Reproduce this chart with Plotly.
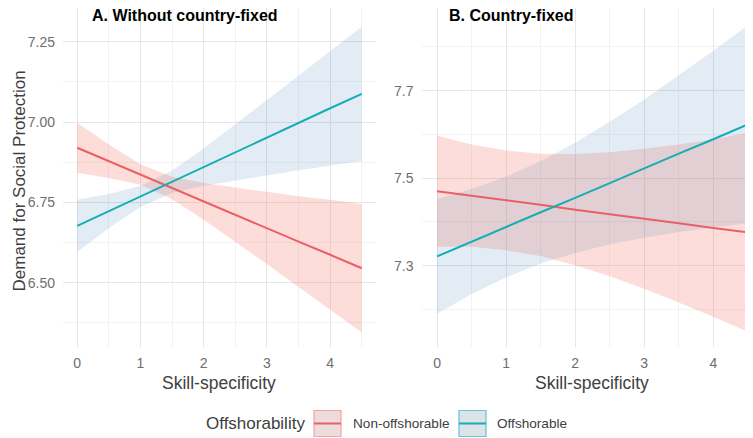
import plotly.graph_objects as go

# ---------------- data ----------------
skill = [0, 0.5, 1, 1.5, 2, 2.5, 3, 3.5, 4, 4.5]
groups = ["Non-offshorable", "Offshorable"]

# Panel A: without country-fixed
a_non_fit = [6.920, 6.878, 6.837, 6.795, 6.753, 6.712, 6.670, 6.628, 6.587, 6.545]
a_non_lo = [6.842, 6.826, 6.805, 6.760, 6.696, 6.628, 6.558, 6.487, 6.416, 6.345]
a_non_hi = [6.998, 6.930, 6.869, 6.830, 6.810, 6.796, 6.782, 6.769, 6.758, 6.745]
a_off_fit = [6.677, 6.723, 6.768, 6.814, 6.860, 6.906, 6.951, 6.997, 7.043, 7.088]
a_off_lo = [6.596, 6.670, 6.736, 6.779, 6.802, 6.819, 6.834, 6.850, 6.865, 6.879]
a_off_hi = [6.758, 6.776, 6.801, 6.849, 6.918, 6.993, 7.068, 7.144, 7.221, 7.297]

# Panel B: country-fixed
b_non_fit = [7.470, 7.460, 7.449, 7.439, 7.428, 7.418, 7.407, 7.397, 7.386, 7.376]
b_non_lo = [7.343, 7.343, 7.335, 7.322, 7.301, 7.276, 7.247, 7.216, 7.183, 7.149]
b_non_hi = [7.597, 7.577, 7.563, 7.556, 7.555, 7.559, 7.567, 7.577, 7.589, 7.603]
b_off_fit = [7.321, 7.355, 7.388, 7.422, 7.455, 7.489, 7.522, 7.556, 7.589, 7.623]
b_off_lo = [7.190, 7.235, 7.273, 7.305, 7.329, 7.349, 7.364, 7.377, 7.387, 7.397]
b_off_hi = [7.452, 7.475, 7.503, 7.539, 7.581, 7.629, 7.680, 7.735, 7.791, 7.849]

a_yticks = [6.50, 6.75, 7.00, 7.25]
a_yminor = [6.375, 6.625, 6.875, 7.125]
b_yticks = [7.3, 7.5, 7.7]
b_yminor = [7.2, 7.4, 7.6, 7.8]
x_ticks = [0, 1, 2, 3, 4]
x_minor = [0.5, 1.5, 2.5, 3.5, 4.5]

# ---------------- style ----------------
W, H = 753, 438
OFF = 8  # page body margin offsets the figure by 8 px
LINE_COL = {"Non-offshorable": "#EA5F64", "Offshorable": "#14AEB4"}
FILL_COL = {"Non-offshorable": "rgba(248,118,109,0.25)", "Offshorable": "rgba(70,130,180,0.15)"}
FONT = "Liberation Sans, Arial, sans-serif"

fig = go.Figure()

panels = [
    ("x", "y", {"Non-offshorable": (a_non_fit, a_non_lo, a_non_hi),
                "Offshorable": (a_off_fit, a_off_lo, a_off_hi)}),
    ("x2", "y2", {"Non-offshorable": (b_non_fit, b_non_lo, b_non_hi),
                  "Offshorable": (b_off_fit, b_off_lo, b_off_hi)}),
]

for xa, ya, d in panels:
    for g in groups:
        fit, lo, hi = d[g]
        fig.add_trace(go.Scatter(x=skill, y=lo, mode="lines", line=dict(width=0),
                                 showlegend=False, hoverinfo="skip", xaxis=xa, yaxis=ya))
        fig.add_trace(go.Scatter(x=skill, y=hi, mode="lines", line=dict(width=0),
                                 fill="tonexty", fillcolor=FILL_COL[g],
                                 showlegend=False, hoverinfo="skip", xaxis=xa, yaxis=ya))
    for g in groups:
        fit, lo, hi = d[g]
        fig.add_trace(go.Scatter(x=skill, y=fit, mode="lines", name=g,
                                 line=dict(color=LINE_COL[g], width=2),
                                 showlegend=False, xaxis=xa, yaxis=ya))


def px_x(p):
    return (p - OFF) / W


def px_y(p):
    return 1 - (p - OFF) / H


grid_major = "#E6E6E6"
grid_minor = "#F2F2F2"
tickfont = dict(family=FONT, size=14, color="#6E6E6E")

xcommon = dict(tickmode="array", tickvals=x_ticks, ticktext=[str(t) for t in x_ticks],
               showgrid=True, gridcolor=grid_major, gridwidth=1, zeroline=False,
               showline=False, ticks="", tickfont=tickfont, ticklabelstandoff=6,
               automargin=False,
               minor=dict(tickmode="array", tickvals=x_minor,
                          showgrid=True, gridcolor=grid_minor, gridwidth=1, ticks=""))


def ycommon(ticks, minor, fmt):
    return dict(tickmode="array", tickvals=ticks, ticktext=[fmt % v for v in ticks],
                showgrid=True, gridcolor=grid_major, zeroline=False, showline=False, ticks="",
                tickfont=tickfont, ticklabelstandoff=7, automargin=False,
                minor=dict(tickmode="array", tickvals=minor,
                           showgrid=True, gridcolor=grid_minor, ticks=""))


fig.update_layout(
    width=W, height=H,
    margin=dict(l=0, r=0, t=0, b=0, autoexpand=False),
    paper_bgcolor="white", plot_bgcolor="white",
    font=dict(family=FONT),
    showlegend=False,
    xaxis=dict(domain=[px_x(63), px_x(376)], range=[-0.225, 4.725], anchor="y", **xcommon),
    xaxis2=dict(domain=[px_x(421.5), px_x(761)], range=[-0.225, 4.69], anchor="y2", **xcommon),
    yaxis=dict(domain=[px_y(347), px_y(8)], range=[6.30, 7.355], anchor="x",
               **ycommon(a_yticks, a_yminor, "%.2f")),
    yaxis2=dict(domain=[px_y(347), px_y(8)], range=[7.114, 7.889], anchor="x2",
                **ycommon(b_yticks, b_yminor, "%.1f")),
)

ann = []
# panel titles
ann.append(dict(text="<b>A. Without country-fixed</b>", x=px_x(90), y=px_y(15), xref="paper", yref="paper",
                xanchor="left", yanchor="middle", showarrow=False,
                font=dict(family=FONT, size=16, color="black")))
ann.append(dict(text="<b>B. Country-fixed</b>", x=px_x(447), y=px_y(15), xref="paper", yref="paper",
                xanchor="left", yanchor="middle", showarrow=False,
                font=dict(family=FONT, size=16, color="black")))
# axis titles
for cx in (219.5, 592):
    ann.append(dict(text="Skill-specificity", x=px_x(cx), y=px_y(383), xref="paper", yref="paper",
                    xanchor="center", yanchor="middle", showarrow=False,
                    font=dict(family=FONT, size=17.5, color="#404040")))
ann.append(dict(text="Demand for Social Protection", x=0, y=px_y(181), xref="paper", yref="paper",
                xanchor="left", yanchor="middle", textangle=-90, showarrow=False,
                font=dict(family=FONT, size=17, color="#404040")))
# legend
ann.append(dict(text="Offshorability", x=px_x(204), y=px_y(423.5), xref="paper", yref="paper",
                xanchor="left", yanchor="middle", showarrow=False,
                font=dict(family=FONT, size=17, color="#404040")))
ann.append(dict(text="Non-offshorable", x=px_x(351), y=px_y(423.5), xref="paper", yref="paper",
                xanchor="left", yanchor="middle", showarrow=False,
                font=dict(family=FONT, size=13.6, color="#404040")))
ann.append(dict(text="Offshorable", x=px_x(495), y=px_y(423.5), xref="paper", yref="paper",
                xanchor="left", yanchor="middle", showarrow=False,
                font=dict(family=FONT, size=13.6, color="#404040")))

shapes = []
key_fill = {"Non-offshorable": "#EEDCDD", "Offshorable": "#DCE4EA"}
key_border = {"Non-offshorable": "#F4A3A3", "Offshorable": "#5FC9CC"}
for g, x0 in (("Non-offshorable", 314), ("Offshorable", 459)):
    shapes.append(dict(type="rect", xref="paper", yref="paper",
                       x0=px_x(x0), x1=px_x(x0 + 27), y0=px_y(436.5), y1=px_y(410.5),
                       fillcolor=key_fill[g], line=dict(color=key_border[g], width=1.2)))
    shapes.append(dict(type="line", xref="paper", yref="paper",
                       x0=px_x(x0), x1=px_x(x0 + 27), y0=px_y(423.5), y1=px_y(423.5),
                       line=dict(color=LINE_COL[g], width=2)))

fig.update_layout(annotations=ann, shapes=shapes)
fig.write_html("out.html")
